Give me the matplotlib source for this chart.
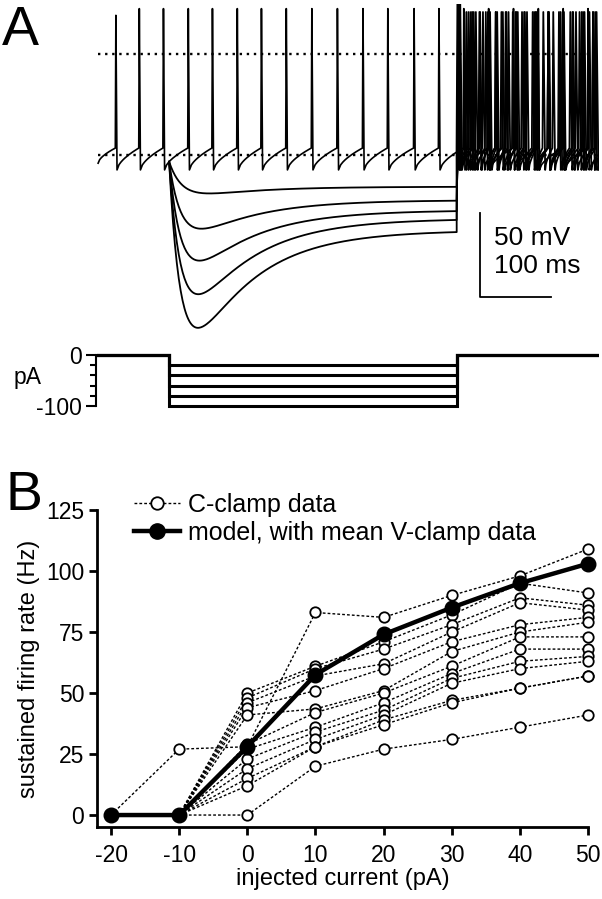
import numpy as np
import matplotlib
matplotlib.use("Agg")
import matplotlib.pyplot as plt
from matplotlib.lines import Line2D

plt.rcParams['font.family'] = ['Liberation Sans', 'DejaVu Sans']
plt.rcParams['axes.unicode_minus'] = False

W, H = 602, 899

# ---------------- panel A: values ----------------
t_end = 703                  # ms, end of sweep
step_on, step_off = 100, 505 # ms, current step
step_amps = [-20, -40, -60, -80, -100]   # pA
v_start = -65                # mV
v_trough = -69
v_thr = -56
ref_lines = [0, -60]         # dotted reference levels (mV)

ctrl_spikes = [25, 58, 92, 127, 161, 196, 230, 265, 301, 337, 373, 408,
               445, 480, 515, 550, 585, 620, 655, 690]
ctrl_peaks = [23] + [27] * 19

hyp_min = [-83, -104, -123, -143, -163]   # sag minimum per step
hyp_end = [-79, -87, -93, -98, -105]      # value at end of step

rebound_spikes = [
    [510, 529, 549, 570, 591, 612, 634, 656, 678, 700],
    [509, 525, 542, 560, 578, 597, 616, 635, 654, 673, 692],
    [508, 522, 537, 552, 568, 584, 600, 617, 634, 651, 668, 685, 702],
    [507, 519, 532, 546, 560, 574, 589, 604, 619, 634, 649, 665, 681, 697],
    [506, 516, 527, 538, 550, 562, 575, 588, 601, 614, 627, 641, 655, 669, 683, 697],
]
rebound_peak_first = 31
rebound_peak = 25

scalebar_mv, scalebar_ms = 50, 100

# ---------------- panel B: values ----------------
current = [-20, -10, 0, 10, 20, 30, 40, 50]
model_rate = [0, 0, 28, 57.5, 74, 85, 95, 103]
nan = np.nan
cclamp = [
    [0, 27, 28, 83, 81, 90, 98, 109],
    [nan, 0, 50, 61, 71, 82, 95, 91],
    [nan, 0, 48, 60, 68, 78, 89, 86],
    [nan, 0, 46, 57, 62, 75, 87, 84],
    [nan, 0, 44, 51, 60, 71, 78, 81],
    [nan, 0, 41, 43.5, 51, 67, 75, 79],
    [nan, 0, 29, 42, 50, 61, 73, 73],
    [nan, 0, 27, 36, 46, 58, 68, 68],
    [nan, 0, 23, 34, 43, 56, 63, 65],
    [nan, 0, 19, 31, 41, 54, 60, 63],
    [nan, 0, 15, 28, 39, 47, 52, 57],
    [nan, 0, 12, 28, 37, 46, 52, 57],
    [nan, 0, 0, 20, 27, 31, 36, 41],
]


def spike_train(t0, v0, times, peaks, t_stop, rise=0.8, fall=1.6):
    ts, vs = [t0], [v0]
    t_prev, v_prev = t0, v0
    r = np.linspace(0, 1, 12)[1:]
    isi = 30
    for tk, pk in zip(times, peaks):
        ts.extend(t_prev + r * (tk - rise - t_prev))
        vs.extend(v_prev + (v_thr - v_prev) * r ** 0.6)
        ts += [tk, tk + fall]
        vs += [pk, v_trough]
        isi = tk - t_prev
        t_prev, v_prev = tk + fall, v_trough
    if t_stop > t_prev:
        tt = np.linspace(t_prev, t_stop, 12)[1:]
        frac = np.clip((tt - t_prev) / isi, 0, 1)
        ts.extend(tt)
        vs.extend(v_prev + (v_thr - v_prev) * frac ** 0.6)
    return np.array(ts), np.array(vs)


def sag(vb, vmin, ve, s):
    g = 1 - np.exp(-s / 20.0)
    h = np.exp(-s / 85.0)
    S = 0.0
    for _ in range(20):
        v = vb + (ve - vb) * g + S * g * h
        i = np.argmin(v)
        S += (vmin - v[i]) / (g[i] * h[i])
    return vb + (ve - vb) * g + S * g * h


fig = plt.figure(figsize=(W / 100, H / 100), dpi=100)


def px_axes(left, top, right, bottom):
    return fig.add_axes([left / W, 1 - bottom / H, (right - left) / W, (bottom - top) / H])


# voltage traces
ax_v = px_axes(96, 3.6, 598.7, 339.6)
ax_v.set_xlim(-3, 705)
ax_v.set_ylim(-170, 30)
ax_v.axis('off')

t_c, v_c = spike_train(0, v_start, ctrl_spikes, ctrl_peaks, t_end)
ax_v.plot(t_c, v_c, color='k', lw=1.2)

for vmin, ve, rb in zip(hyp_min, hyp_end, rebound_spikes):
    vb = np.interp(step_on, t_c, v_c)
    s = np.linspace(0, step_off - step_on, 300)
    v_h = sag(vb, vmin, ve, s)
    pk = [rebound_peak_first] + [rebound_peak] * (len(rb) - 1)
    t_r, v_r = spike_train(step_off, v_h[-1], rb, pk, t_end, rise=1.2, fall=2.6)
    ax_v.plot(np.concatenate([step_on + s, t_r]), np.concatenate([v_h, v_r]),
              color='k', lw=1.3)

for lv in ref_lines:
    ax_v.plot([0, t_end], [lv, lv], color='k', lw=1.7, ls=(0, (1, 2)))

# scale bar
sb_t, sb_v = 538, -144.6
ax_v.plot([sb_t, sb_t, sb_t + scalebar_ms], [sb_v + scalebar_mv, sb_v, sb_v],
          color='k', lw=1.3)
ax_v.text(558, -113.7, f'{scalebar_mv} mV', fontsize=19, va='baseline', ha='left')
ax_v.text(558, -130.4, f'{scalebar_ms} ms', fontsize=19, va='baseline', ha='left')

# current steps
ax_i = px_axes(96, 349.9, 598.7, 411.1)
ax_i.set_xlim(-3, 705)
ax_i.set_ylim(-110, 10)
for a in step_amps:
    ax_i.plot([0, step_on, step_on, step_off, step_off, t_end], [0, 0, a, a, 0, 0],
              color='k', lw=2.2, solid_joinstyle='miter')
for sp in ['top', 'right', 'bottom']:
    ax_i.spines[sp].set_visible(False)
ax_i.spines['left'].set_bounds(-100, 0)
ax_i.spines['left'].set_linewidth(1.5)
ax_i.set_xticks([])
ax_i.set_yticks([0, -100])
ax_i.set_yticklabels(['0', '-100'])
ax_i.set_yticks([-20, -40, -60, -80], minor=True)
ax_i.tick_params(axis='y', which='major', length=7, width=1.5, labelsize=16.5, pad=3)
ax_i.tick_params(axis='y', which='minor', length=4, width=1.5)
ax_i.set_ylabel('pA', fontsize=16.5, rotation=0, va='center', ha='center')
ax_i.yaxis.set_label_coords(-0.137, 0.55)

# ---------------- panel B ----------------
ax_b = px_axes(96.7, 510, 588, 827)
ax_b.set_xlim(-22.1, 50)
ax_b.set_ylim(-4.9, 125)
for c in cclamp:
    ax_b.plot(current, c, color='k', lw=1.0, ls=(0, (2, 1.5)), marker='o', ms=7.5,
              mfc='white', mec='k', mew=1.3, clip_on=False, zorder=3)
ax_b.plot(current, model_rate, color='k', lw=3.2, marker='o', ms=10.5,
          clip_on=False, zorder=5)

for sp in ['top', 'right']:
    ax_b.spines[sp].set_visible(False)
for sp in ['left', 'bottom']:
    ax_b.spines[sp].set_linewidth(2.0)
ax_b.set_xticks(current)
ax_b.set_yticks([0, 25, 50, 75, 100, 125])
ax_b.tick_params(length=6, width=2.0, labelsize=16.5)
ax_b.tick_params(axis='x', pad=6)
ax_b.tick_params(axis='y', pad=3)
ax_b.set_xlabel('injected current (pA)', fontsize=17, labelpad=1)
ax_b.set_ylabel('sustained firing rate (Hz)', fontsize=17, labelpad=4)

handles = [
    Line2D([], [], color='k', lw=1.0, ls=(0, (2, 1.5)), marker='o', ms=9,
           mfc='white', mec='k', mew=1.3),
    Line2D([], [], color='k', lw=3.2, marker='o', ms=11),
]
ax_b.legend(handles, ['C-clamp data', 'model, with mean V-clamp data'],
            loc='upper left', bbox_to_anchor=(134 / W, 1 - 493 / H),
            bbox_transform=fig.transFigure, frameon=False, fontsize=18,
            handlelength=1.85, handletextpad=0.3, labelspacing=0.15,
            borderpad=0, borderaxespad=0)

fig.text(2 / W, 1 - 45 / H, 'A', fontsize=40, va='baseline', ha='left')
fig.text(5 / W, 1 - 510 / H, 'B', fontsize=40, va='baseline', ha='left')

fig.savefig('out.png', dpi=100)
